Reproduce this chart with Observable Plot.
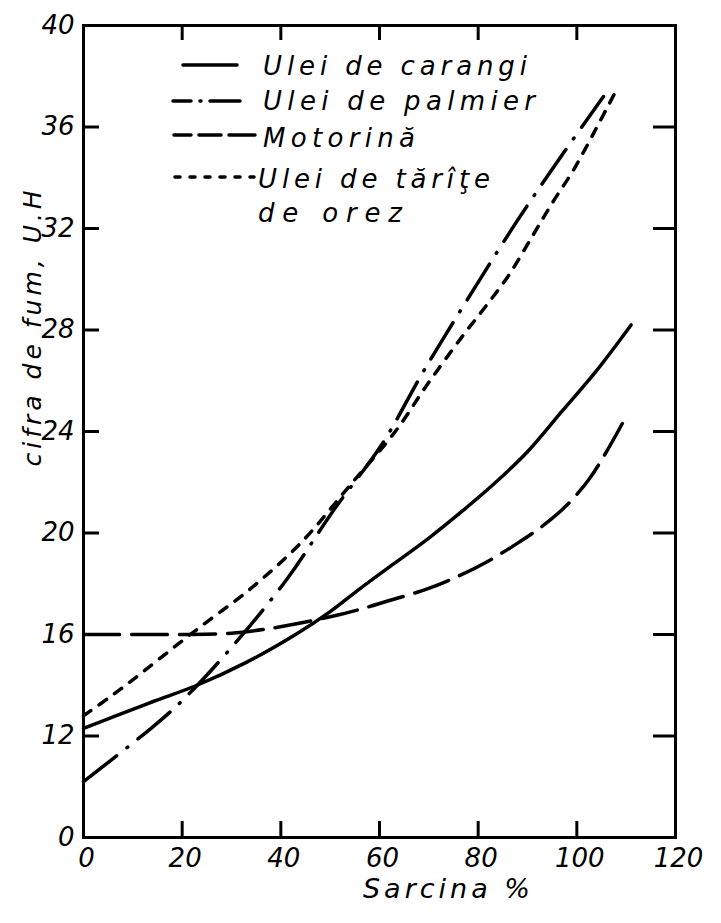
<!DOCTYPE html>
<html><head><meta charset="utf-8">
<script src="https://cdn.jsdelivr.net/npm/d3@7"></script>
<script src="https://cdn.jsdelivr.net/npm/@observablehq/plot@0.6"></script>
<style>
body{margin:0;background:#fff;}
#wrap{position:relative;width:721px;height:923px;}
#legend{position:absolute;left:0;top:0;pointer-events:none;}
</style></head><body><div id="wrap"></div>
<script>
// ---- data ----
const seriesNames = ["Ulei de carangi", "Ulei de palmier", "Motorină", "Ulei de tărîţe"];
const seriesNameLine2 = "de orez";

const carangiX = [0, 6, 14, 23, 33, 43, 50, 56, 63, 70, 77, 83, 90, 97, 104, 111];
const carangiY = [12.3, 12.75, 13.35, 14.0, 14.9, 16.0, 16.9, 17.8, 18.8, 19.8, 20.9, 21.9, 23.2, 24.8, 26.4, 28.2];

const palmierX = [0, 14.3, 20.3, 30.5, 41.3, 50.7, 60.5, 69, 79.1, 87.9, 96.3, 105.4];
const palmierY = [10.2, 12.4, 13.45, 15.6, 18.2, 20.9, 23.5, 26.4, 29.6, 32.3, 34.7, 37.2];

const motorinaX = [0, 10, 20, 30, 36.5, 44, 50, 56.2, 62.2, 69.7, 76, 82.1, 88, 93.2, 98, 102.4, 106, 110.3];
const motorinaY = [16, 16, 16, 16.05, 16.2, 16.45, 16.7, 17.0, 17.35, 17.8, 18.3, 18.9, 19.6, 20.3, 21.1, 22.1, 23.2, 24.7];

const tariteX = [0, 5.8, 11.6, 19, 25.7, 33.2, 44, 54.1, 63.2, 69.5, 76.6, 81, 86, 91, 95, 99.3, 103.8, 107.6];
const tariteY = [12.8, 13.6, 14.46, 15.6, 16.6, 17.7, 19.6, 21.9, 24.0, 25.8, 27.7, 28.8, 30.1, 31.7, 33.0, 34.3, 35.9, 37.3];

const xTickValues = [0, 20, 40, 60, 80, 100, 120];
const xTickLabels = ["0", "20", "40", "60", "80", "100", "120"];
const xInnerTicks = [20, 40, 60, 80, 100];
const yTickValues = [8, 12, 16, 20, 24, 28, 32, 36, 40];
const yTickLabels = ["0", "12", "16", "20", "24", "28", "32", "36", "40"];
const yInnerTicks = [12, 16, 20, 24, 28, 32, 36];
const xLabel = "Sarcina %";
const yLabel = "cifra de fum, U.H";

// ---- styles ----
const dashes = [null, "42,13,1,13", "36,12", "9,10"];
const W = 721, H = 923, mL = 83, mR = 46, mT = 25, mB = 86;
const innerW = W - mL - mR, innerH = H - mT - mB;
const font = "'DejaVu Sans', 'Liberation Sans', sans-serif";

const toRows = (xs, ys) => xs.map((x, i) => ({x, y: ys[i]}));
const series = [toRows(carangiX, carangiY), toRows(palmierX, palmierY), toRows(motorinaX, motorinaY), toRows(tariteX, tariteY)];
const xLabMap = new Map(xTickValues.map((v, i) => [v, xTickLabels[i]]));
const yLabMap = new Map(yTickValues.map((v, i) => [v, yTickLabels[i]]));

const chart = Plot.plot({
  width: W, height: H,
  marginLeft: mL, marginRight: mR, marginTop: mT, marginBottom: mB,
  x: {domain: [0, 120]},
  y: {domain: [8, 40]},
  style: {fontFamily: font, fontStyle: "italic", fontSize: "26px", color: "#000", background: "#fff"},
  marks: [
    Plot.axisX(xTickValues, {anchor: "bottom", tickSize: 0, tickPadding: 11, tickFormat: d => xLabMap.get(d), label: null, fontSize: 26, dx: 3}),
    Plot.axisY(yTickValues, {anchor: "left", tickSize: 0, tickPadding: 9, tickFormat: d => yLabMap.get(d), label: null, fontSize: 26}),
    Plot.frame({stroke: "#000", strokeWidth: 3}),
    Plot.ruleX(xInnerTicks, {x: d => d, insetTop: innerH - 16, stroke: "#000", strokeWidth: 3}),
    Plot.ruleX(xInnerTicks, {x: d => d, insetBottom: innerH - 15, stroke: "#000", strokeWidth: 3}),
    Plot.ruleY(yInnerTicks, {y: d => d, insetRight: innerW - 16, stroke: "#000", strokeWidth: 3}),
    Plot.ruleY(yInnerTicks, {y: d => d, insetLeft: innerW - 22, stroke: "#000", strokeWidth: 3}),
    ...series.map((s, i) => Plot.line(s, {x: "x", y: "y", curve: "catmull-rom", stroke: "#000", strokeWidth: 3.5,
      strokeLinecap: "round", strokeDasharray: dashes[i] ?? undefined})),
    Plot.text([xLabel], {text: d => d, frameAnchor: "bottom", dx: 69, dy: 60, fontSize: 27}),
    Plot.text([yLabel], {text: d => d, frameAnchor: "left", dx: -51, dy: 35, rotate: -90, fontSize: 25})
  ]
});
d3.select(chart).selectAll('g[aria-label="text"] text').attr("letter-spacing", 4);
document.getElementById("wrap").appendChild(chart);

// ---- in-plot legend overlay ----
const legRows = [
  {y: 65, x1: 183, x2: 237, dash: null, tx: 263, ty: 75, tl: 264, label: seriesNames[0]},
  {y: 101, x1: 173, x2: 240, dash: "18,9,1,9,40", tx: 263, ty: 110, tl: 272, label: seriesNames[1]},
  {y: 135, x1: 174, x2: 255, dash: "17,8,22,8,40", tx: 263, ty: 147, tl: 152, label: seriesNames[2]},
  {y: 177, x1: 175, x2: 254, dash: "5,10", tx: 258, ty: 188, tl: 232, label: seriesNames[3]},
  {y: null, tx: 258, ty: 222, tl: 144, label: seriesNameLine2}
];
const leg = d3.create("svg").attr("id", "legend").attr("width", W).attr("height", 240);
legRows.forEach(r => {
  if (r.y != null) {
    leg.append("line").attr("x1", r.x1).attr("x2", r.x2).attr("y1", r.y).attr("y2", r.y)
      .attr("stroke", "#000").attr("stroke-width", 3.5).attr("stroke-linecap", "round")
      .attr("stroke-dasharray", r.dash);
  }
  leg.append("text").attr("x", r.tx).attr("y", r.ty).attr("font-family", font).attr("font-style", "italic")
    .attr("font-size", 26).attr("textLength", r.tl).attr("lengthAdjust", "spacing").text(r.label);
});
document.getElementById("wrap").appendChild(leg.node());
</script>
</body></html>
